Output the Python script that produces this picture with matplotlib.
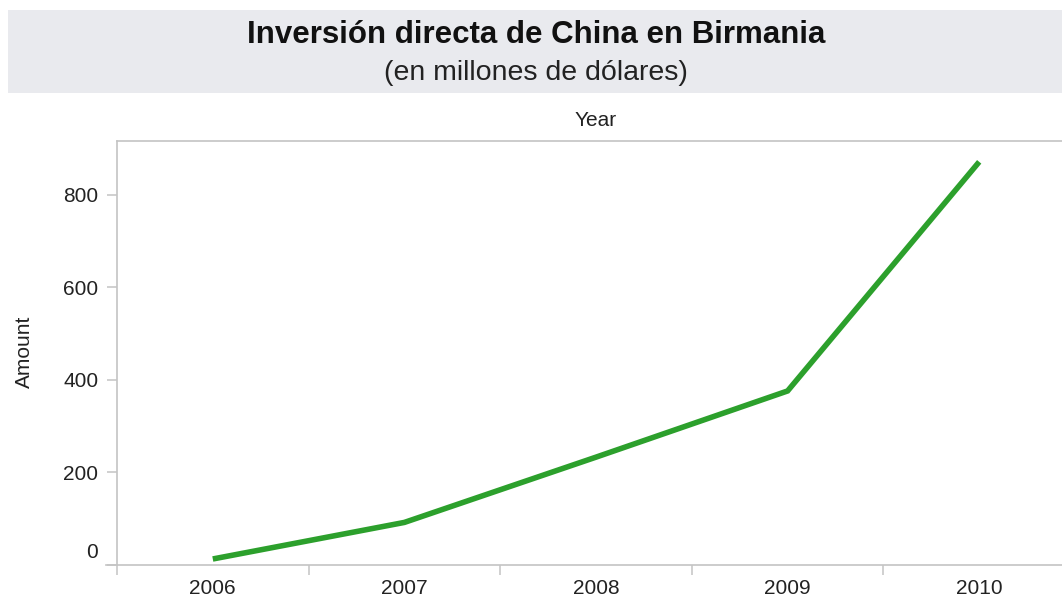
import matplotlib.pyplot as plt
import matplotlib.transforms as mtransforms
from matplotlib.patches import Rectangle

plt.rcParams['font.family'] = ['Liberation Sans', 'DejaVu Sans']

years = ["2006", "2007", "2008", "2009", "2010"]
amount = [13, 92, 233, 376, 871]
y_ticks = [0, 200, 400, 600, 800]

GREEN = "#2ca02c"
AXIS_GRAY = "#c4c4c4"
TEXT = "#222222"

fig = plt.figure(figsize=(10.62, 5.98), dpi=100)

# title banner
fig.patches.append(Rectangle((8 / 1062, 1 - 93 / 598), 1.0, 83 / 598,
                             transform=fig.transFigure, facecolor="#e9eaee",
                             edgecolor="none", zorder=0))
fig.text(0.505, 1 - 35 / 598, "Inversión directa de China en Birmania",
         ha="center", va="center", fontsize=22.5, fontweight="bold", color="#111111")
fig.text(0.505, 1 - 73 / 598, "(en millones de dólares)",
         ha="center", va="center", fontsize=20.5, color="#222222")

ax = fig.add_axes([117 / 1062, 33 / 598, (1075 - 117) / 1062, (565 - 141) / 598])
x = range(len(years))
ax.plot(x, amount, color=GREEN, lw=4, solid_capstyle="butt", solid_joinstyle="miter")

ax.set_xlim(-0.5, len(years) - 0.5)
ax.set_ylim(0, 916)

ax.set_xticks(list(x))
ax.set_xticklabels(years, fontsize=15, color=TEXT)
ax.set_xticks([i - 0.5 for i in range(len(years) + 1)], minor=True)
ax.tick_params(axis="x", which="major", length=0, pad=10)
ax.tick_params(axis="x", which="minor", length=7.5, width=1.1, color=AXIS_GRAY)

ax.set_yticks(y_ticks)
ax.set_yticklabels([str(v) for v in y_ticks], fontsize=15, color=TEXT)
ax.tick_params(axis="y", length=7.5, width=1.1, color=AXIS_GRAY, pad=6)
# zero label sits a bit above the axis line
zero = ax.get_yticklabels()[0]
zero.set_transform(zero.get_transform() +
                   mtransforms.ScaledTranslation(0, 15 / 100, fig.dpi_scale_trans))

for side in ["left", "top", "bottom"]:
    ax.spines[side].set_color(AXIS_GRAY)
    ax.spines[side].set_linewidth(1.2)
ax.spines["right"].set_visible(False)
# axis line runs a little past the y axis on the left
ax.plot([-11 / 958, 0], [0, 0], transform=ax.transAxes, color=AXIS_GRAY,
        lw=1.2, clip_on=False)

fig.text(596 / 1062, 1 - 120 / 598, "Year", ha="center", va="center",
         fontsize=15, color=TEXT)
fig.text(24 / 1062, 1 - 352 / 598, "Amount", ha="center", va="center",
         rotation=90, fontsize=15, color=TEXT)

fig.savefig("out.png", dpi=100)
